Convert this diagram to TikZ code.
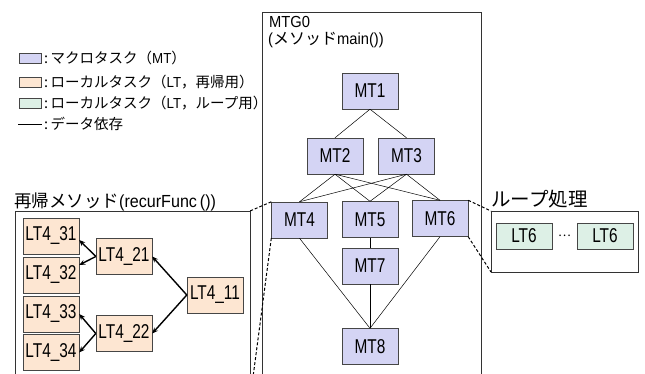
\documentclass[tikz,border=0pt]{standalone}
\usepackage{fontspec}
\setmainfont{Liberation Sans}[FakeStretch=0.92]
\newfontfamily\narrowf{Liberation Sans}[FakeStretch=0.77]
\newfontfamily\jp{Noto Sans CJK JP}
\usetikzlibrary{arrows.meta}
\definecolor{mtc}{RGB}{212,212,244}
\definecolor{ltc}{RGB}{253,230,210}
\definecolor{lpc}{RGB}{221,240,230}
\definecolor{bd}{RGB}{70,70,70}
\tikzset{
  mt/.style={draw=bd, fill=mtc, minimum width=56pt, minimum height=36pt, inner sep=0pt, font=\narrowf\fontsize{20}{20}\selectfont},
  lt/.style={draw=bd, fill=ltc, minimum width=56pt, minimum height=36pt, inner sep=0pt, font=\narrowf\fontsize{20}{20}\selectfont},
  lp/.style={draw=bd, fill=lpc, minimum width=56pt, minimum height=26pt, inner sep=0pt, font=\narrowf\fontsize{20}{20}\selectfont},
  dep/.style={draw=black, line width=0.5pt},
  rec/.style={draw=black, line width=1.4pt, -{Stealth[length=6pt,width=5pt]}},
  dsh/.style={draw=black, line width=1pt, dashed, dash pattern=on 3pt off 2pt},
  frame/.style={draw=black!80, line width=0.8pt},
  legsq/.style={draw=bd, minimum width=22pt, minimum height=10pt, inner sep=0pt},
  legtxt/.style={anchor=west, inner sep=0pt, font=\fontsize{14.5}{14.5}\selectfont},
  ttl/.style={anchor=west, inner sep=0pt, font=\fontsize{17.5}{17.5}\selectfont}
}
\begin{document}
\begin{tikzpicture}[x=1pt,y=-1pt]
\useasboundingbox (0,0) rectangle (645,374);
\clip (0,0) rectangle (645,374);
% legend
\node[legsq, fill=mtc] (s1) at (30,58) {};
\node[legtxt] (t1) at (44,58) {{\jp :\,マクロタスク（}MT{\jp ）}};
\node[legsq, fill=ltc] (s2) at (30,82) {};
\node[legtxt] (t2) at (44,82) {{\jp :\,ローカルタスク（}LT{\jp ，再帰用）}};
\node[legsq, fill=lpc] (s3) at (30,103) {};
\node[legtxt] (t3) at (44,103) {{\jp :\,ローカルタスク（}LT{\jp ，ループ用）}};
\coordinate (l1) at (18,124);
\coordinate (l2) at (42,124);
\draw[dep] (l1) -- (l2);
\node[legtxt] (t4) at (44,124) {{\jp :\,データ依存}};
% MTG0 frame
\coordinate (g1) at (262,12);
\coordinate (g2) at (481,400);
\draw[frame] (g1) rectangle (g2);
\node[anchor=north west, inner sep=0pt, font=\fontsize{16}{16}\selectfont] (g0) at (269,16) {MTG0};
\node[anchor=north west, inner sep=0pt, font=\fontsize{16}{16}\selectfont] (g0b) at (268,32) {({\jp メソッド}main())};
% MT nodes
\node[mt] (MT1) at (370,91) {MT1};
\node[mt] (MT2) at (335,156) {MT2};
\node[mt] (MT3) at (406.5,156) {MT3};
\node[mt] (MT4) at (299.5,220) {MT4};
\node[mt] (MT5) at (370,219.5) {MT5};
\node[mt] (MT6) at (440,218.5) {MT6};
\node[mt] (MT7) at (370,266) {MT7};
\node[mt] (MT8) at (370,346.5) {MT8};
\draw[dep] (MT1.south) -- (MT2.north);
\draw[dep] (MT1.south) -- (MT3.north);
\foreach \a in {MT2,MT3}{
  \foreach \b in {MT4,MT5,MT6}{
    \draw[dep] (\a.south) -- (\b.north);
  }
}
\draw[dep] (MT4.south) -- (MT8.north);
\draw[dep] (MT5.south) -- (MT7.north);
\draw[dep] (MT7.south) -- (MT8.north);
\draw[dep] (MT6.south) -- (MT8.north);
% recursive method
\node[ttl] (rt) at (14,202) {{\jp 再帰メソッド}(recurFunc\,())};
\coordinate (r1) at (15,211);
\coordinate (r2) at (250,400);
\coordinate (rNE) at (250,211);
\draw[frame] (r1) rectangle (r2);
\node[lt] (LT431) at (51,236) {LT4\_31};
\node[lt] (LT432) at (51,275) {LT4\_32};
\node[lt] (LT433) at (51,314) {LT4\_33};
\node[lt] (LT434) at (51,352.5) {LT4\_34};
\node[lt] (LT421) at (124,256.5) {LT4\_21};
\node[lt] (LT422) at (124,333.5) {LT4\_22};
\node[lt] (LT411) at (215,295) {LT4\_11};
\draw[rec] (LT411.west) -- (LT421.east);
\draw[rec] (LT411.west) -- (LT422.east);
\draw[rec] (LT421.west) -- ([yshift=-4pt]LT431.east);
\draw[rec] (LT421.west) -- ([yshift=10pt]LT432.east);
\draw[rec] (LT422.west) -- (LT433.east);
\draw[rec] (LT422.west) -- (LT434.east);
% loop
\node[ttl, font=\fontsize{19.5}{19.5}\selectfont] (lt) at (491,199) {\jp ループ処理};
\coordinate (p1) at (491,211);
\coordinate (p2) at (638,272);
\coordinate (pSW) at (491,272);
\draw[frame] (p1) rectangle (p2);
\node[lp] (LT6a) at (524,236) {LT6};
\node[lp] (LT6b) at (605,236) {LT6};
\node[inner sep=0pt, font=\fontsize{12}{12}\selectfont] (dots) at (564.5,236) {\jp …};
% dashed connectors
\draw[dsh] (MT4.north west) -- (rNE);
\draw[dsh] (MT4.south west) -- (r2);
\draw[dsh] (MT6.north east) -- (p1);
\draw[dsh] (MT6.south east) -- (pSW);
\end{tikzpicture}
\end{document}
